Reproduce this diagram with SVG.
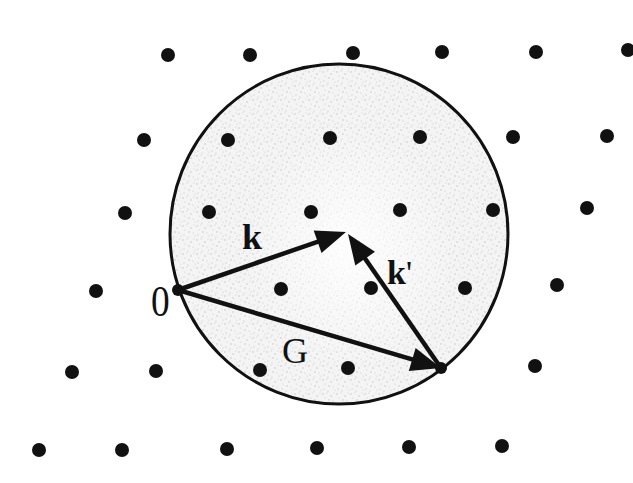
<svg xmlns="http://www.w3.org/2000/svg" width="633" height="483" viewBox="0 0 633 483">
  <style>
    .pt { fill: #111; }
    .sphere { fill: none; stroke: #111; stroke-width: 3; }
    .vec { fill: none; stroke: #111; stroke-width: 4.5; stroke-linecap: butt; marker-end: url(#head); }
    .lbl { font-family: "Liberation Serif", "Times New Roman", serif; fill: #111; }
  </style>
  <defs>
    <marker id="head" markerUnits="userSpaceOnUse" markerWidth="30" markerHeight="24" refX="22" refY="12" orient="auto" overflow="visible">
      <path d="M0,0 L30,12 L0,24 z" fill="#111"/>
    </marker>
    <pattern id="speckle" width="14" height="14" patternUnits="userSpaceOnUse">
      <circle cx="1" cy="2" r="0.7" fill="#888"/>
      <circle cx="5" cy="1" r="0.6" fill="#999"/>
      <circle cx="9" cy="4" r="0.7" fill="#888"/>
      <circle cx="12" cy="1" r="0.6" fill="#aaa"/>
      <circle cx="3" cy="6" r="0.6" fill="#999"/>
      <circle cx="7" cy="8" r="0.7" fill="#888"/>
      <circle cx="11" cy="9" r="0.6" fill="#999"/>
      <circle cx="2" cy="11" r="0.7" fill="#aaa"/>
      <circle cx="6" cy="13" r="0.6" fill="#888"/>
      <circle cx="13" cy="12" r="0.6" fill="#999"/>
    </pattern>
    <radialGradient id="shade" cx="0.5" cy="0.5" r="0.5">
      <stop offset="0" stop-color="#ffffff" stop-opacity="0.9"/>
      <stop offset="0.55" stop-color="#ffffff" stop-opacity="0.4"/>
      <stop offset="1" stop-color="#ffffff" stop-opacity="0"/>
    </radialGradient>
  </defs>
  <rect width="633" height="483" fill="#ffffff"/>

  <g id="ewald-sphere">
    <ellipse cx="339" cy="234" rx="169" ry="170" fill="#f4f4f4"/>
    <ellipse cx="339" cy="234" rx="169" ry="170" fill="url(#speckle)" opacity="0.5"/>
    <ellipse cx="350" cy="250" rx="105" ry="120" fill="url(#shade)"/>
    <ellipse class="sphere" cx="339" cy="234" rx="169" ry="170"/>
  </g>

  <g id="lattice">
    <circle class="pt" cx="168" cy="55" r="7"/>
    <circle class="pt" cx="250" cy="55" r="7"/>
    <circle class="pt" cx="353" cy="53" r="7"/>
    <circle class="pt" cx="442" cy="52" r="7"/>
    <circle class="pt" cx="536" cy="52" r="7"/>
    <circle class="pt" cx="628" cy="50" r="7"/>

    <circle class="pt" cx="144" cy="140" r="7"/>
    <circle class="pt" cx="228" cy="140" r="7"/>
    <circle class="pt" cx="330" cy="138" r="7"/>
    <circle class="pt" cx="420" cy="137" r="7"/>
    <circle class="pt" cx="513" cy="137" r="7"/>
    <circle class="pt" cx="607" cy="136" r="7"/>

    <circle class="pt" cx="125" cy="213" r="7"/>
    <circle class="pt" cx="209" cy="212" r="7"/>
    <circle class="pt" cx="311" cy="212" r="7"/>
    <circle class="pt" cx="400" cy="210" r="7"/>
    <circle class="pt" cx="493" cy="210" r="7"/>
    <circle class="pt" cx="587" cy="208" r="7"/>

    <circle class="pt" cx="96" cy="291" r="7"/>
    <circle class="pt" cx="281" cy="289" r="7"/>
    <circle class="pt" cx="371" cy="288" r="7"/>
    <circle class="pt" cx="465" cy="288" r="7"/>
    <circle class="pt" cx="557" cy="285" r="7"/>

    <circle class="pt" cx="72" cy="372" r="7"/>
    <circle class="pt" cx="156" cy="371" r="7"/>
    <circle class="pt" cx="260" cy="370" r="7"/>
    <circle class="pt" cx="348" cy="368" r="7"/>
    <circle class="pt" cx="535" cy="366" r="7"/>

    <circle class="pt" cx="39" cy="450" r="7"/>
    <circle class="pt" cx="122" cy="450" r="7"/>
    <circle class="pt" cx="227" cy="449" r="7"/>
    <circle class="pt" cx="317" cy="448" r="7"/>
    <circle class="pt" cx="409" cy="447" r="7"/>
    <circle class="pt" cx="502" cy="446" r="7"/>
  </g>

  <g id="origin">
    <circle class="pt" cx="178" cy="290" r="6"/>
    <text class="lbl" x="0" y="0" font-size="44" transform="translate(151,316) scale(0.85,1)">0</text>
  </g>

  <g id="point-G">
    <circle class="pt" cx="441" cy="368" r="6"/>
  </g>

  <g id="connectors">
    <path id="vec-k" class="vec" d="M178,290 L338.4,234.6"/>
    <path id="vec-kprime" class="vec" d="M441,368 L352.6,240.6"/>
    <path id="vec-G" class="vec" d="M178,290 L433.3,365.7"/>
  </g>

  <g id="labels">
    <text class="lbl" x="242" y="249" font-size="36" font-weight="bold">k</text>
    <text class="lbl" x="387" y="284" font-size="34" font-weight="bold">k<tspan font-weight="normal">'</tspan></text>
    <text class="lbl" x="282" y="363" font-size="36">G</text>
  </g>
</svg>
